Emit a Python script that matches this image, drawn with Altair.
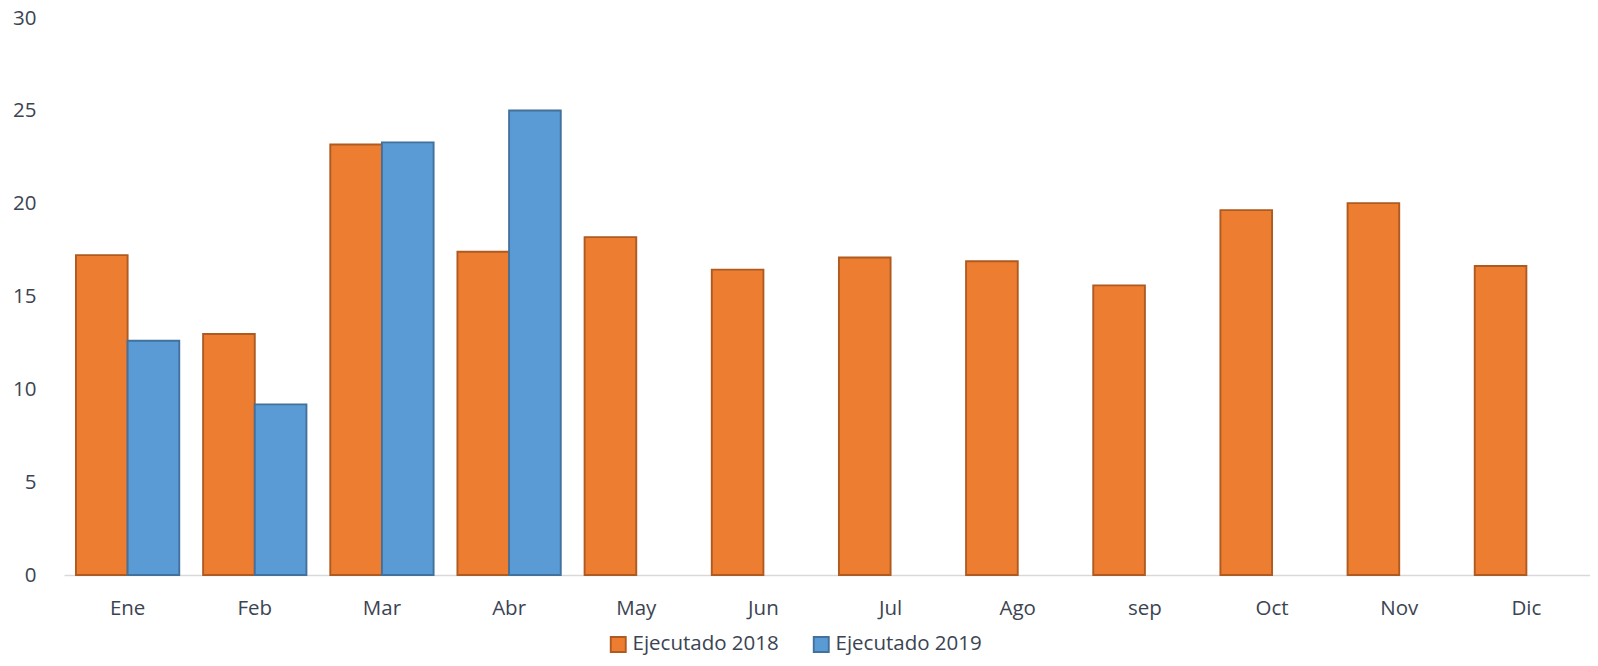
import altair as alt
import pandas as pd

months = ["Ene", "Feb", "Mar", "Abr", "May", "Jun", "Jul", "Ago", "sep", "Oct", "Nov", "Dic"]
ejec_2018 = [17.23, 12.98, 23.19, 17.41, 18.2, 16.45, 17.1, 16.9, 15.6, 19.65, 20.03, 16.64]
ejec_2019 = [12.62, 9.19, 23.3, 25.02, None, None, None, None, None, None, None, None]
series = ["Ejecutado 2018", "Ejecutado 2019"]
fills = ["#ED7D31", "#5B9BD5"]
strokes = ["#AE5A21", "#41719C"]

rows = []
for m, a, b in zip(months, ejec_2018, ejec_2019):
    rows.append({"mes": m, "serie": series[0], "valor": a})
    if b is not None:
        rows.append({"mes": m, "serie": series[1], "valor": b})
df = pd.DataFrame(rows)

FONT = "Open Sans"
TXT = "#3b4452"
FS = 20.5

chart = alt.Chart(df).mark_bar(strokeWidth=1.9).encode(
    x=alt.X("mes:N", sort=months, title=None,
            scale=alt.Scale(paddingInner=0.1875, paddingOuter=0.094),
            axis=alt.Axis(labelAngle=0, ticks=False, domainColor="#d9d9d9", domainWidth=1.5,
                          labelPadding=23, labelFontSize=FS, labelColor=TXT, labelFont=FONT,
                          grid=False)),
    xOffset=alt.XOffset("serie:N", scale=alt.Scale(domain=series, paddingInner=0, paddingOuter=0)),
    y=alt.Y("valor:Q", title=None,
            scale=alt.Scale(domain=[0, 30]),
            axis=alt.Axis(values=[0, 5, 10, 15, 20, 25, 30], ticks=False, domain=False, grid=False,
                          labelPadding=28, labelFontSize=FS, labelColor=TXT, labelFont=FONT)),
    fill=alt.Fill("serie:N", scale=alt.Scale(domain=series, range=fills),
                  legend=alt.Legend(title=None, orient="none", direction="horizontal",
                                    legendX=544, legendY=616, symbolType="square", symbolSize=225,
                                    symbolStrokeWidth=1.9, labelFontSize=FS, labelColor=TXT,
                                    labelFont=FONT, labelOffset=4, columnPadding=30)),
    stroke=alt.Stroke("serie:N", scale=alt.Scale(domain=series, range=strokes), legend=None),
).properties(
    width=1526, height=557,
    autosize=alt.AutoSizeParams(type="none"),
    padding={"left": 56, "top": 10, "right": 0, "bottom": 83},
    background="white",
).configure_view(stroke=None)

chart.save("out.html", embed_options={"renderer": "svg", "actions": False})
